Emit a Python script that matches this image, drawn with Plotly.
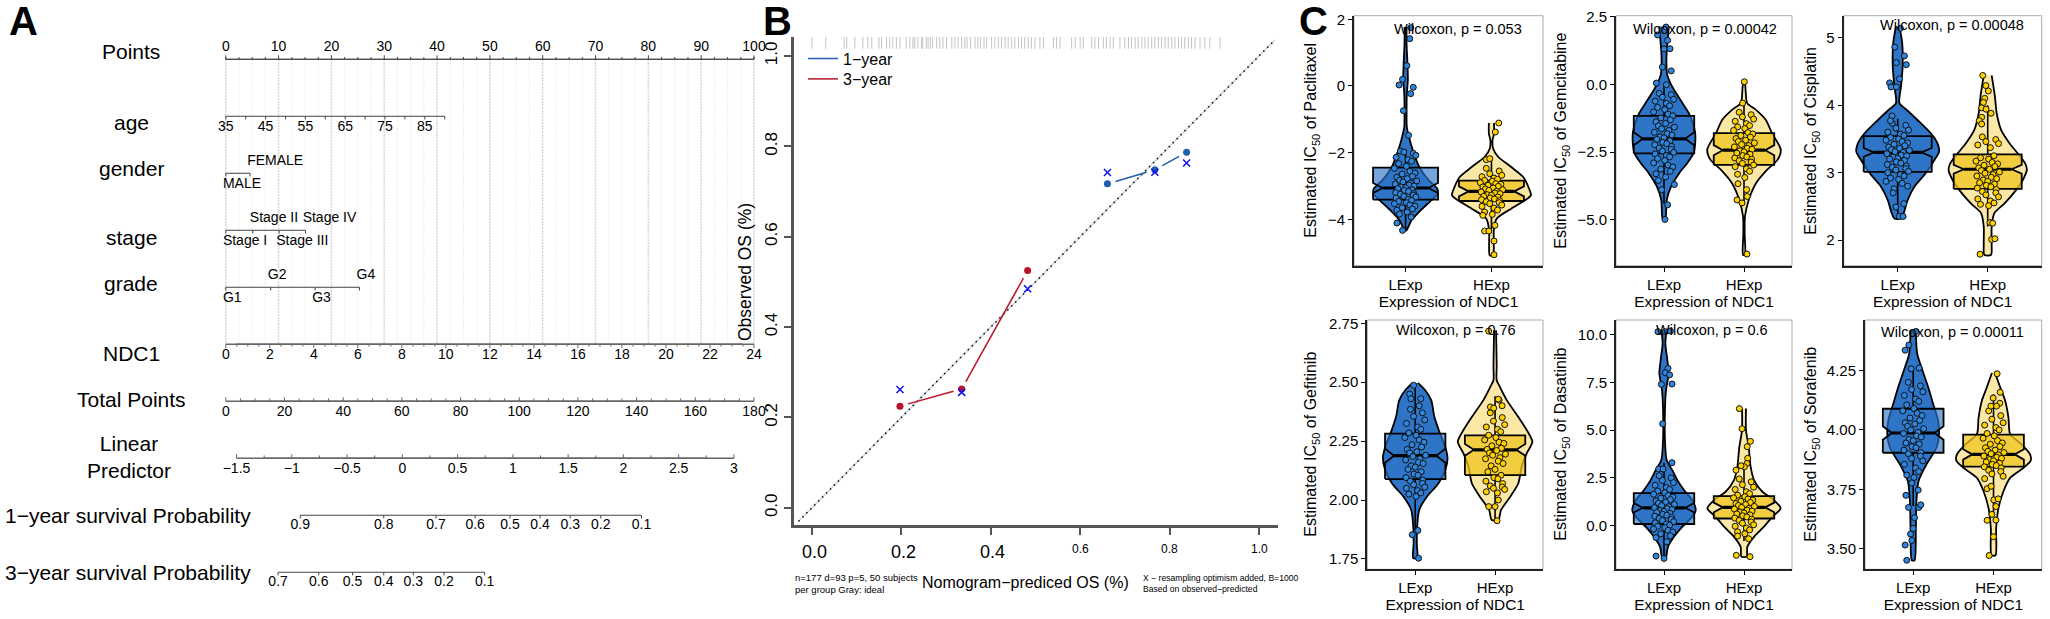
import plotly.graph_objects as go

W, H = 2050, 619
FONT = "Liberation Sans"

# ---- panel A, nomogram rows. positions are on the Points scale (0-100)
points_major = [0, 10, 20, 30, 40, 50, 60, 70, 80, 90, 100]
points_minor = [2.5, 5, 7.5, 12.5, 15, 17.5, 22.5, 25, 27.5, 32.5, 35, 37.5, 42.5, 45, 47.5, 52.5, 55, 57.5,
                62.5, 65, 67.5, 72.5, 75, 77.5, 82.5, 85, 87.5, 92.5, 95, 97.5]
age_ticks = [35, 40, 45, 50, 55, 60, 65, 70, 75, 80, 85, 90]
age_labels = [35, 45, 55, 65, 75, 85]
age_end_pts = 41.44
gender_labels = ["MALE", "FEMALE"]
gender_pts = [0, 4.6]
stage_labels = ["Stage I", "Stage II", "Stage III", "Stage IV"]
stage_pts = [0, 5.1, 10.1, 15.1]
grade_labels = ["G1", "G2", "G3", "G4"]
grade_pts = [0, 8.5, 16.9, 25.3]
ndc1_major = [0, 2, 4, 6, 8, 10, 12, 14, 16, 18, 20, 22, 24]
ndc1_minor = [0.5, 1, 1.5, 2.5, 3, 3.5, 4.5, 5, 5.5, 6.5, 7, 7.5, 8.5, 9, 9.5, 10.5, 11, 11.5, 12.5, 13, 13.5,
              14.5, 15, 15.5, 16.5, 17, 17.5, 18.5, 19, 19.5, 20.5, 21, 21.5, 22.5, 23, 23.5]
total_major = [0, 20, 40, 60, 80, 100, 120, 140, 160, 180]
total_minor = [5, 10, 15, 25, 30, 35, 45, 50, 55, 65, 70, 75, 85, 90, 95, 105, 110, 115, 125, 130, 135, 145, 150,
               155, 165, 170, 175]
lp_major = [-1.5, -1, -0.5, 0, 0.5, 1, 1.5, 2, 2.5, 3]
lp_labels = ["−1.5", "−1", "−0.5", "0", "0.5", "1", "1.5", "2", "2.5", "3"]
lp_minor = [-1.25, -0.75, -0.25, 0.25, 0.75, 1.25, 1.75, 2.25, 2.75]
lp_start_pts = 2.03
lp_end_pts = 96.2
surv1_labels = ["0.9", "0.8", "0.7", "0.6", "0.5", "0.4", "0.3", "0.2", "0.1"]
surv1_pts = [14.1, 29.9, 39.8, 47.2, 53.8, 59.5, 65.2, 71, 78.7]
surv3_labels = ["0.7", "0.6", "0.5", "0.4", "0.3", "0.2", "0.1"]
surv3_pts = [9.9, 17.6, 24, 29.9, 35.5, 41.3, 49]
row_names = ["Points", "age", "gender", "stage", "grade", "NDC1", "Total Points", "Linear<br>Predictor",
             "1−year survival Probability", "3−year survival Probability"]

# ---- panel B, calibration
pred_1y = [0.661, 0.767, 0.838]
obs_1y = [0.717, 0.748, 0.787]
corr_1y = [0.742, 0.7425, 0.763]
pred_3y = [0.197, 0.335, 0.4825]
obs_3y = [0.225, 0.263, 0.525]
corr_3y = [0.262, 0.2555, 0.485]
ideal = [-0.03, 1.035]
rug = [0.0, .031, .072, .078, .096, .114, .125, .134, .15, .156, .167, .174, .181, .189, .197, .211, .219, .226,
       .23, .237, .245, .248, .256, .26, .265, .27, .279, .286, .293, .301, .313, .32, .327, .335, .342, .347, .355,
       .365, .371, .377, .385, .391, .402, .409, .417, .424, .432, .439, .447, .454, .462, .469, .476, .484, .491,
       .499, .51, .518, .54, .547, .555, .581, .589, .6, .607, .626, .633, .641, .652, .659, .667, .674, .689, .7,
       .708, .715, .723, .73, .738, .745, .752, .76, .767, .775, .782, .79, .797, .805, .812, .82, .827, .834, .842,
       .849, .857, .868, .879, .89, .913]
calib_ticks = [0.0, 0.2, 0.4, 0.6, 0.8, 1.0]
calib_labels = ["0.0", "0.2", "0.4", "0.6", "0.8", "1.0"]

# ---- panel C, violin outline (level, half width), box stats, points
# box = q1, median, q3, notch half height, lower whisker, upper whisker
pac_l_lev = [1.77, 1.27, .62, .17, -.23, -.73, -1.23, -1.53, -1.93, -2.43, -2.83, -3.08, -3.23, -3.43, -3.73, -4.03, -4.33]
pac_l_wid = [.012, .012, .023, .027, .015, .012, .015, .04, .085, .16, .27, .37, .375, .30, .175, .07, .01]
pac_l_box = [-3.41, -3.06, -2.45, .15, -4.3, -1.9]
pac_l_core = [-1.95, -2.02, -1.98, -2.08, -2.14, -2.21, -2.26, -2.33, -2.41, -2.47, -2.56, -2.61, -2.64, -2.71, -2.74,
              -2.78, -2.83, -2.85, -2.88, -2.92, -2.94, -2.97, -3.0, -3.03, -3.05, -3.08, -3.11, -3.13, -3.16, -3.2,
              -3.22, -3.25, -3.27, -3.31, -3.33, -3.36, -3.4, -3.43, -3.46, -3.5, -3.53, -3.57, -3.6, -3.65, -3.69,
              -3.73, -3.78, -3.84]
pac_l_ty = [1.75, 1.42, .61, .2, .03, -.04, -.23, -.74, -1.48, -4.11, -4.33, -3.93]
pac_l_dx = [.06, .05, .015, -.035, -.075, .09, .06, -.025, .035, -.1, -.035, .065]
pac_h_lev = [-1.11, -1.43, -1.63, -1.88, -2.13, -2.43, -2.73, -3.03, -3.28, -3.43, -3.68, -3.98, -4.33, -4.68, -5.08]
pac_h_wid = [.03, .03, .012, .02, .08, .23, .37, .43, .46, .39, .23, .06, .027, .027, .02]
pac_h_box = [-3.45, -3.16, -2.84, .15, -4.3, -2.1]
pac_h_core = [-2.47, -2.55, -2.63, -2.68, -2.72, -2.76, -2.8, -2.83, -2.86, -2.9, -2.93, -2.95, -2.98, -3.01, -3.03,
              -3.06, -3.09, -3.11, -3.13, -3.16, -3.18, -3.21, -3.23, -3.26, -3.28, -3.31, -3.33, -3.36, -3.39, -3.41,
              -3.44, -3.47, -3.5, -3.53, -3.57, -3.61, -3.66, -3.72, -3.78, -3.85]
pac_h_ty = [-1.11, -1.38, -2.21, -2.18, -4.35, -4.35, -4.18, -4.65, -5.06, -3.88]
pac_h_dx = [.085, .045, -.06, -.02, -.08, -.03, .04, .03, .03, -.1]

gem_l_lev = [2.14, 1.77, 1.28, .79, .36, .05, -.32, -.69, -1.06, -1.43, -1.80, -2.17, -2.54, -2.91, -3.28, -3.77, -4.26, -5.0]
gem_l_wid = [.06, .05, .035, .03, .04, .08, .15, .23, .31, .36, .39, .39, .37, .29, .19, .09, .035, .015]
gem_l_box = [-2.55, -2.01, -1.16, .24, -4.4, 0]
gem_l_core = [-.33, -.38, -.47, -.55, -.62, -.7, -.79, -.85, -.93, -1.02, -1.1, -1.16, -1.24, -1.31, -1.38, -1.44, -1.53,
              -1.58, -1.64, -1.7, -1.77, -1.82, -1.87, -1.93, -1.97, -2.03, -2.08, -2.14, -2.19, -2.23, -2.29, -2.35,
              -2.4, -2.46, -2.51, -2.57, -2.63, -2.68, -2.74, -2.81, -2.9, -2.98, -3.05, -3.13, -3.21, -3.3, -3.42,
              -3.55, -3.7, -3.89]
gem_l_ty = [1.83, 2.12, 1.63, 1.31, 1.32, .64, .5, .05, -.01, -4.45, -4.99]
gem_l_dx = [-.08, .025, .045, 0, .075, -.02, .09, -.095, .03, .045, .012]
gem_h_lev = [.15, -.2, -.69, -.94, -1.3, -1.8, -2.41, -2.78, -3.15, -3.65, -4.26, -4.88, -5.5, -6.3]
gem_h_wid = [.012, .02, .04, .15, .27, .35, .46, .42, .29, .15, .06, .012, .008, .012]
gem_h_box = [-2.97, -2.43, -1.8, .185, -4.4, -.7]
gem_h_core = [-1.03, -1.12, -1.2, -1.28, -1.36, -1.45, -1.52, -1.57, -1.63, -1.7, -1.78, -1.83, -1.89, -1.95, -2.0,
              -2.06, -2.11, -2.16, -2.22, -2.26, -2.31, -2.36, -2.4, -2.45, -2.49, -2.54, -2.58, -2.63, -2.68, -2.72,
              -2.77, -2.82, -2.87, -2.92, -2.98, -3.04, -3.12, -3.21, -3.32, -3.44]
gem_h_ty = [.1, -.69, -4.27, -4.38, -4.14, -3.89, -3.67, -6.27]
gem_h_dx = [.004, -.017, -.087, -.025, .04, .033, -.075, .037]

cis_l_lev = [5.17, 4.92, 4.57, 4.28, 4.03, 3.93, 3.78, 3.58, 3.44, 3.31, 3.19, 2.99, 2.79, 2.59, 2.40, 2.32]
cis_l_wid = [.019, .05, .055, .037, .019, .10, .22, .37, .44, .46, .41, .31, .185, .11, .067, .037]
cis_l_box = [3.01, 3.30, 3.54, .065, 2.33, 3.8]
cis_l_core = [3.73, 3.7, 3.66, 3.63, 3.6, 3.57, 3.55, 3.52, 3.5, 3.48, 3.46, 3.44, 3.42, 3.4, 3.38, 3.36, 3.34, 3.33,
              3.31, 3.3, 3.28, 3.26, 3.25, 3.23, 3.21, 3.2, 3.18, 3.16, 3.14, 3.12, 3.1, 3.08, 3.06, 3.04, 3.02, 3.0,
              2.97, 2.95, 2.92, 2.9, 2.87, 2.84, 2.8, 2.76]
cis_l_ty = [5.14, 4.86, 4.73, 4.63, 4.6, 4.39, 4.33, 4.27, 4.27, 3.84, 3.77, 2.35, 2.35, 2.49, 2.54, 2.7]
cis_l_dx = [.03, -.033, .074, -.015, .096, .02, -.09, -.074, -.015, -.063, -.08, .02, .06, -.02, .067, -.05]
cis_h_lev = [4.44, 4.13, 3.88, 3.63, 3.44, 3.29, 3.14, 3.04, 2.89, 2.74, 2.54, 2.40, 2.2, 1.95, 1.78]
cis_h_wid = [.044, .08, .1, .15, .24, .33, .415, .435, .39, .315, .185, .074, .044, .044, .037]
cis_h_box = [2.76, 3.05, 3.27, .065, 2.2, 4.0]
cis_h_core = [3.53, 3.49, 3.46, 3.43, 3.41, 3.37, 3.25, 3.22, 3.2, 3.17, 3.15, 3.13, 3.11, 3.09, 3.07, 3.05, 3.03, 3.01,
              2.99, 2.97, 2.95, 2.93, 2.91, 2.89, 2.87, 2.85, 2.83, 2.81, 2.79, 2.77, 2.75, 2.72, 2.7, 2.67, 2.64, 2.61,
              2.58, 2.55, 2.53, 2.51]
cis_h_ty = [4.44, 4.29, 4.21, 4.1, 4.04, 3.96, 3.94, 3.88, 3.82, 3.77, 3.72, 1.79, 2.01, 2.02, 2.26, 2.25]
cis_h_dx = [-.055, -.02, .007, -.033, -.048, -.067, -.018, .037, -.067, -.093, -.067, -.085, .044, .08, .026, .055]

gef_l_lev = [2.497, 2.466, 2.424, 2.353, 2.282, 2.226, 2.177, 2.127, 2.07, 2.014, 1.958, 1.887, 1.816, 1.753]
gef_l_wid = [.033, .125, .2, .24, .31, .375, .405, .375, .29, .146, .05, .025, .02, .025]
gef_l_box = [2.089, 2.188, 2.282, .03, 1.87, 2.49]
gef_l_core = [2.385, 2.37, 2.355, 2.34, 2.325, 2.31, 2.3, 2.285, 2.275, 2.265, 2.255, 2.245, 2.235, 2.225, 2.215, 2.205,
              2.2, 2.19, 2.185, 2.175, 2.17, 2.16, 2.155, 2.145, 2.14, 2.13, 2.12, 2.11, 2.105, 2.095, 2.085, 2.08, 2.07,
              2.065, 2.055, 2.05, 2.04, 2.03, 2.025, 2.015]
gef_l_ty = [2.487, 2.45, 2.43, 2.43, 2.40, 1.853, 1.871, 1.753]
gef_l_dx = [-.02, -.07, -.054, .07, .05, -.037, .033, .042]
gef_h_lev = [2.72, 2.636, 2.565, 2.508, 2.48, 2.424, 2.353, 2.297, 2.247, 2.198, 2.141, 2.07, 2.014, 1.958, 1.915]
gef_h_wid = [.012, .017, .02, .02, .06, .146, .29, .396, .467, .396, .333, .29, .19, .075, .042]
gef_h_box = [2.106, 2.213, 2.274, .025, 1.91, 2.44]
gef_h_core = [2.37, 2.35, 2.335, 2.32, 2.31, 2.3, 2.29, 2.275, 2.265, 2.255, 2.245, 2.24, 2.23, 2.22, 2.215, 2.21, 2.2,
              2.195, 2.19, 2.18, 2.175, 2.165, 2.155, 2.145, 2.13, 2.12, 2.105, 2.095, 2.09, 2.08, 2.07, 2.06, 2.055,
              2.05, 2.045, 2.035, 2.03]
gef_h_ty = [2.717, 2.424, 2.40, 2.395, 2.39, 2.428, 1.972, 1.972, 2.0, 1.912]
gef_h_dx = [-.08, .05, .088, -.058, -.017, .04, -.08, 0, .04, .025]

das_l_lev = [10.24, 9.55, 8.67, 7.98, 7.1, 6.06, 4.49, 3.44, 2.91, 2.39, 1.87, 1.34, .82, .47, -.05, -.58, -1.1, -1.71]
das_l_wid = [.033, .017, .042, .058, .025, .012, .012, .033, .104, .167, .25, .354, .396, .354, .23, .125, .05, .02]
das_l_box = [.09, .94, 1.71, .25, -1.7, 3.3]
das_l_core = [2.62, 2.5, 2.37, 2.26, 2.12, 2.0, 1.9, 1.82, 1.73, 1.65, 1.58, 1.5, 1.44, 1.37, 1.3, 1.24, 1.18, 1.12, 1.06,
              1.0, .95, .9, .85, .8, .75, .7, .65, .6, .55, .5, .44, .38, .33, .27, .21, .15, .09, .03, -.03, -.1, -.17,
              -.24, -.33, -.42, -.52, -.62]
das_l_ty = [10.16, 10.16, 10.19, 8.24, 8.01, 7.9, 7.4, 7.42, 5.34, 3.3, 2.97, 2.97, -1.59, -1.71, -.84]
das_l_dx = [-.075, .017, .08, .05, .017, .07, -.033, .1, -.017, .1, -.067, -.012, -.1, 0, .037]
das_h_lev = [6.14, 5.0, 4.14, 3.09, 2.39, 1.78, 1.34, .91, .47, -.05, -.58, -1.1, -1.62]
das_h_wid = [.025, .025, .058, .083, .125, .23, .375, .458, .354, .25, .125, .042, .033]
das_h_box = [.38, .96, 1.55, .25, -.8, 3.2]
das_h_core = [2.45, 2.3, 2.15, 2.02, 1.9, 1.78, 1.68, 1.6, 1.52, 1.46, 1.4, 1.34, 1.28, 1.22, 1.16, 1.11, 1.06, 1.01, .96,
              .91, .87, .82, .77, .72, .67, .62, .57, .52, .46, .4, .34, .28, .2, .13, .05, -.03, -.12, -.22, -.32, -.42]
das_h_ty = [6.13, 5.08, 4.42, 4.14, 3.53, 3.26, 2.91, 3.09, 3.14, -1.55, -1.62, -.68, -.54]
das_h_dx = [-.058, -.025, .08, .04, .046, .037, -.1, .004, -.037, -.096, .075, .058, -.08]

sor_l_lev = [4.42, 4.32, 4.25, 4.18, 4.11, 4.04, 3.98, 3.925, 3.855, 3.784, 3.70, 3.586, 3.452]
sor_l_wid = [.033, .05, .116, .186, .248, .31, .322, .29, .165, .066, .041, .033, .017]
sor_l_box = [3.904, 3.987, 4.089, .028, 3.68, 4.26]
sor_l_core = [4.2, 4.185, 4.17, 4.16, 4.145, 4.13, 4.12, 4.105, 4.09, 4.08, 4.07, 4.06, 4.05, 4.04, 4.03, 4.025, 4.015, 4.005,
              4.0, 3.99, 3.985, 3.975, 3.97, 3.96, 3.955, 3.945, 3.94, 3.93, 3.925, 3.915, 3.905, 3.9, 3.89, 3.88, 3.87,
              3.855, 3.84, 3.825, 3.81, 3.8]
sor_l_ty = [4.414, 4.357, 4.335, 4.26, 4.257, 3.452, 3.516, 3.535, 3.562, 3.586, 3.631, 3.674, 3.674, 3.685, 3.747, 3.725, 3.777]
sor_l_dx = [.033, -.054, -.1, .074, -.025, -.08, -.1, -.017, -.033, 0, .017, -.058, .07, .095, .062, -.09, -.017]
sor_h_lev = [4.239, 4.179, 4.123, 4.052, 3.982, 3.939, 3.897, 3.871, 3.84, 3.798, 3.742, 3.671, 3.586, 3.473]
sor_h_wid = [.02, .083, .145, .186, .207, .35, .455, .463, .372, .207, .124, .062, .033, .025]
sor_h_box = [3.846, 3.897, 3.98, .022, 3.65, 4.15]
sor_h_core = [4.08, 4.06, 4.045, 4.03, 4.02, 4.01, 4.0, 3.985, 3.975, 3.965, 3.955, 3.945, 3.94, 3.93, 3.925, 3.915, 3.91, 3.905,
              3.9, 3.895, 3.89, 3.885, 3.88, 3.875, 3.87, 3.865, 3.86, 3.855, 3.85, 3.845, 3.84, 3.83, 3.825, 3.815, 3.805, 3.795]
sor_h_ty = [4.236, 4.158, 4.134, 4.112, 4.1, 4.1, 3.472, 3.551, 3.62, 3.645, 3.621, 3.678, 3.706, 3.71, 3.753, 3.763]
sor_h_dx = [.045, .083, -.004, .078, .037, -.033, -.054, 0, -.08, -.02, .03, .03, .004, .058, -.08, -.03]

jitter = [-.06, .09, -.02, .12, -.11, .03, .07, -.08, .01, -.13, .05, .11, -.04, .08, -.1, .02, -.07, .13, -.03, .06,
          -.12, .04, .1, -.05, 0, -.09, .075, -.015, .035, -.115, .095]

pac_ticks, pac_text = [2, 0, -2, -4], ["2", "0", "−2", "−4"]
gem_ticks, gem_text = [2.5, 0, -2.5, -5], ["2.5", "0.0", "−2.5", "−5.0"]
cis_ticks, cis_text = [5, 4, 3, 2], ["5", "4", "3", "2"]
gef_ticks, gef_text = [2.75, 2.5, 2.25, 2, 1.75], ["2.75", "2.50", "2.25", "2.00", "1.75"]
das_ticks, das_text = [10, 7.5, 5, 2.5, 0], ["10.0", "7.5", "5.0", "2.5", "0.0"]
sor_ticks, sor_text = [4.25, 4, 3.75, 3.5], ["4.25", "4.00", "3.75", "3.50"]
groups = ["LExp", "HExp"]

BLUE, BLUE_BOX, BLUE_PT = "#2E75C8", "rgba(46,117,200,0.65)", "#2E86DE"
YEL, YEL_BOX, YEL_PT = "#FBE8A6", "rgba(240,196,30,0.75)", "#FFD000"
BOX_HALF = 0.378


def xdom(a, b):
    return [a / W, b / W]


def ydom(top, bottom):
    return [1 - bottom / H, 1 - top / H]


fig = go.Figure()
notes = []


def note(text, x, y, size, anchor="center", angle=0, **kw):
    notes.append(dict(text=text, x=x / W, y=1 - y / H, xref="paper", yref="paper", showarrow=False,
                      font=dict(size=size, color="black"), xanchor=anchor, yanchor="middle", textangle=angle, **kw))


# ------------------ A
def seg(pts, row, length):
    xs, ys = [], []
    for p in pts:
        xs += [p, p, None]
        ys += [row, row + length, None]
    return xs, ys


def rule(pts, row, length=0.055, color="#444444", width=1):
    fig.add_trace(go.Scatter(x=[min(pts), max(pts)], y=[row, row], mode="lines", line=dict(color=color, width=width),
                             xaxis="x", yaxis="y", showlegend=False, hoverinfo="skip"))
    xs, ys = seg(pts, row, length)
    fig.add_trace(go.Scatter(x=xs, y=ys, mode="lines", line=dict(color=color, width=1),
                             xaxis="x", yaxis="y", showlegend=False, hoverinfo="skip"))


def row_text(pts, labels, row, off=0.19, pos="middle center"):
    fig.add_trace(go.Scatter(x=pts, y=[row + off] * len(pts), mode="text", text=labels, textposition=pos,
                             textfont=dict(size=14, color="black"), cliponaxis=False,
                             xaxis="x", yaxis="y", showlegend=False, hoverinfo="skip"))


# grid first so the rows sit on top
xs, ys = seg(points_minor, 0, 5)
fig.add_trace(go.Scatter(x=xs, y=ys, mode="lines", line=dict(color="#eeeeee", width=1, dash="2px,1px"),
                         xaxis="x", yaxis="y", showlegend=False, hoverinfo="skip"))
xs, ys = seg(points_major, 0, 5)
fig.add_trace(go.Scatter(x=xs, y=ys, mode="lines", line=dict(color="#d8d8d8", width=1.6, dash="2px,1px"),
                         xaxis="x", yaxis="y", showlegend=False, hoverinfo="skip"))

rule(points_major, 0, -0.07)
rule(points_minor + [0, 100], 0, -0.04)
row_text(points_major, [str(v) for v in points_major], 0, -0.2)

age_pts = [(v - 35) / 55 * age_end_pts for v in age_ticks]
rule(age_pts, 1)
row_text([(v - 35) / 55 * age_end_pts for v in age_labels], [str(v) for v in age_labels], 1)


def cat_row(pts, labels, row):
    rule(pts, row)
    lower = list(range(0, len(pts), 2))
    upper = list(range(1, len(pts), 2))
    row_text([pts[i] - 0.55 for i in lower], [labels[i] for i in lower], row, 0.19, "middle right")
    row_text([pts[i] - 0.55 for i in upper], [labels[i] for i in upper], row, -0.21, "middle right")


cat_row(gender_pts, gender_labels, 2)
cat_row(stage_pts, stage_labels, 3)
cat_row(grade_pts, grade_labels, 4)

ndc1_pts = [v / 24 * 100 for v in ndc1_major]
rule(ndc1_pts, 5, 0.07, "#666666", 1.6)
rule([v / 24 * 100 for v in ndc1_minor], 5, 0.04, "#666666", 1.6)
row_text(ndc1_pts, [str(v) for v in ndc1_major], 5)

total_pts = [v / 180 * 100 for v in total_major]
rule(total_pts, 6, -0.07, "#666666", 1.6)
rule([v / 180 * 100 for v in total_minor], 6, -0.05, "#666666", 1.6)
row_text(total_pts, [str(v) for v in total_major], 6)


def lp_to_pts(v):
    return lp_start_pts + (v + 1.5) / 4.5 * (lp_end_pts - lp_start_pts)


lp_pts = [lp_to_pts(v) for v in lp_major]
rule(lp_pts, 7, -0.07, "#666666", 1.6)
rule([lp_to_pts(v) for v in lp_minor], 7, -0.05, "#666666", 1.6)
row_text(lp_pts, lp_labels, 7)

rule(surv1_pts, 8)
row_text(surv1_pts, surv1_labels, 8, 0.18)
rule(surv3_pts, 9)
row_text(surv3_pts, surv3_labels, 9, 0.18)

for name, y, cx in zip(row_names, [52, 122, 168, 237, 283, 353, 399, 457, 515, 572],
                       [131, 131, 131, 131, 131, 131, 131, 129, 128, 128]):
    note(name, cx, y, 21)
note("<b>A</b>", 7, 21, 40, "left")

# ------------------ B
fig.add_trace(go.Scatter(x=ideal, y=ideal, mode="lines", line=dict(color="#cccccc", width=1.2),
                         xaxis="x2", yaxis="y2", showlegend=False, hoverinfo="skip"))
fig.add_trace(go.Scatter(x=ideal, y=ideal, mode="lines", line=dict(color="#11222c", width=1.6, dash="1.6px,4px"),
                         xaxis="x2", yaxis="y2", showlegend=False, hoverinfo="skip"))
fig.add_trace(go.Scatter(x=rug, y=[1.03] * len(rug), mode="markers",
                         marker=dict(symbol="line-ns", size=9, line=dict(width=1, color="#c4c4c4")),
                         xaxis="x2", yaxis="y2", showlegend=False, hoverinfo="skip"))


def gapped(xs, ys, gap=0.019):
    gx, gy = [], []
    for i in range(len(xs) - 1):
        dx, dy = xs[i + 1] - xs[i], ys[i + 1] - ys[i]
        d = (dx ** 2 + dy ** 2) ** 0.5
        gx += [xs[i] + dx / d * gap, xs[i + 1] - dx / d * gap, None]
        gy += [ys[i] + dy / d * gap, ys[i + 1] - dy / d * gap, None]
    return gx, gy


# one legend per year so the two entries can sit closer than a single legend allows
for label, px_, ob, co, col, leg in [("1−year", pred_1y, obs_1y, corr_1y, "#1F5FB0", "legend"),
                                     ("3−year", pred_3y, obs_3y, corr_3y, "#B8142A", "legend2")]:
    gx, gy = gapped(px_, ob)
    fig.add_trace(go.Scatter(x=gx, y=gy, mode="lines", line=dict(color=col, width=1.5), name=label, legend=leg,
                             showlegend=True, xaxis="x2", yaxis="y2", hoverinfo="skip"))
    fig.add_trace(go.Scatter(x=px_, y=ob, mode="markers", marker=dict(color=col, size=7),
                             xaxis="x2", yaxis="y2", showlegend=False, hoverinfo="skip"))
    fig.add_trace(go.Scatter(x=px_, y=co, mode="markers",
                             marker=dict(symbol="x-thin", size=7, line=dict(width=1.5, color="#1010EE")),
                             xaxis="x2", yaxis="y2", showlegend=False, hoverinfo="skip"))

note("<b>B</b>", 761, 21, 40, "left")
note("Observed OS (%)", 745, 272, 17.5, angle=-90)
note("Nomogram−prediced OS (%)", 1025, 582, 16)
note("n=177 d=93 p=5, 50 subjects<br>per group Gray: ideal", 793, 583, 9.5, "left", align="left")
note("X − resampling optimism added, B=1000<br>Based on observed−predicted", 1141, 583, 8.6, "left", align="left", width=159)
for tick, lab, px_off, size, yy in zip(calib_ticks, calib_labels, [2, 2, 2, 0, 0, 0], [18, 18, 18, 12, 12, 12],
                                        [552, 552, 552, 549, 549, 549]):
    note(lab, 812 + tick * 447 + px_off, yy, size)

# ------------------ C
panels = [
    ("Paclitaxel", (1354, 1543, 15.7, 265.7), (-5.39, 2.108), pac_ticks, pac_text, "Wilcoxon, p = 0.053", (1458, 29), 1312,
     [(pac_l_lev, pac_l_wid, pac_l_box, pac_l_core, pac_l_ty, pac_l_dx), (pac_h_lev, pac_h_wid, pac_h_box, pac_h_core, pac_h_ty, pac_h_dx)]),
    ("Gemcitabine", (1616, 1792, 15.7, 265.7), (-6.7, 2.54), gem_ticks, gem_text, "Wilcoxon, p = 0.00042", (1705, 29), 1562,
     [(gem_l_lev, gem_l_wid, gem_l_box, gem_l_core, gem_l_ty, gem_l_dx), (gem_h_lev, gem_h_wid, gem_h_box, gem_h_core, gem_h_ty, gem_h_dx)]),
    ("Cisplatin", (1843.7, 2041.7, 15.7, 265.7), (1.62, 5.326), cis_ticks, cis_text, "Wilcoxon, p = 0.00048", (1952, 25), 1812,
     [(cis_l_lev, cis_l_wid, cis_l_box, cis_l_core, cis_l_ty, cis_l_dx), (cis_h_lev, cis_h_wid, cis_h_box, cis_h_core, cis_h_ty, cis_h_dx)]),
    ("Gefitinib", (1367.3, 1543, 320, 569.3), (1.706, 2.764), gef_ticks, gef_text, "Wilcoxon, p = 0.76", (1456, 330), 1312,
     [(gef_l_lev, gef_l_wid, gef_l_box, gef_l_core, gef_l_ty, gef_l_dx), (gef_h_lev, gef_h_wid, gef_h_box, gef_h_core, gef_h_ty, gef_h_dx)]),
    ("Dasatinib", (1616, 1792, 320, 569.3), (-2.28, 10.77), das_ticks, das_text, "Wilcoxon, p = 0.6", (1712, 330), 1562,
     [(das_l_lev, das_l_wid, das_l_box, das_l_core, das_l_ty, das_l_dx), (das_h_lev, das_h_wid, das_h_box, das_h_core, das_h_ty, das_h_dx)]),
    ("Sorafenib", (1865, 2041.7, 320, 569.3), (3.414, 4.462), sor_ticks, sor_text, "Wilcoxon, p = 0.00011", (1952, 332), 1812,
     [(sor_l_lev, sor_l_wid, sor_l_box, sor_l_core, sor_l_ty, sor_l_dx), (sor_h_lev, sor_h_wid, sor_h_box, sor_h_core, sor_h_ty, sor_h_dx)]),
]

axes = {}
shapes = []
for n, (drug, (x0, x1, y0, y1), yrange, ticks, text, wilc, (wx, wy), title_x, grp) in enumerate(panels, start=3):
    xa, ya = f"x{n}", f"y{n}"
    axes[f"xaxis{n}"] = dict(domain=xdom(x0, x1), range=[0.4, 2.6], anchor=ya, tickvals=[1, 2], ticktext=groups,
                             tickfont=dict(size=15), ticks="outside", ticklen=4, tickcolor="black", showgrid=False,
                             zeroline=False, showline=True, linecolor="#222222", linewidth=2, automargin=False,
                             title=dict(text="Expression of NDC1", font=dict(size=15.4), standoff=0))
    axes[f"yaxis{n}"] = dict(domain=ydom(y0, y1), range=list(yrange), anchor=xa, tickvals=ticks, ticktext=text,
                             tickfont=dict(size=15), ticks="outside", ticklen=4, tickcolor="black", showgrid=False,
                             zeroline=False, showline=True, linecolor="#222222", linewidth=2, automargin=False)
    shapes.append(dict(type="rect", xref=f"{xa} domain", yref=f"{ya} domain", x0=0, x1=1, y0=0, y1=1,
                       line=dict(color="#aaaaaa", width=1), layer="below"))
    note(f"Estimated IC<sub>50</sub> of {drug}", title_x, (y0 + y1) / 2, 16, angle=-90)
    note(wilc, wx, wy, 14.5)

    for pos, (lev, wid, box, core, ty, tdx), fill, bfill, pt in zip([1, 2], grp, [BLUE, YEL], [BLUE_BOX, YEL_BOX], [BLUE_PT, YEL_PT]):
        vx = [pos - w for w in wid] + [pos + w for w in reversed(wid)]
        vy = lev + lev[::-1]
        fig.add_trace(go.Scatter(x=vx, y=vy, mode="lines", fill="toself", fillcolor=fill,
                                 line=dict(color="black", width=1.8, shape="spline", smoothing=0.7),
                                 xaxis=xa, yaxis=ya, showlegend=False, hoverinfo="skip"))
        q1, med, q3, nh, lo, up = box
        # whiskers, notched box and median go in as scatter traces so they stack above the violin
        fig.add_trace(go.Scatter(x=[pos, pos, None, pos, pos], y=[q3, up, None, q1, lo], mode="lines",
                                 line=dict(color="black", width=1.6),
                                 xaxis=xa, yaxis=ya, showlegend=False, hoverinfo="skip"))
        h = BOX_HALF
        bx = [pos - h, pos + h, pos + h, pos + h * 0.7, pos + h, pos + h, pos - h, pos - h, pos - h * 0.7, pos - h, pos - h]
        by = [q1, q1, med - nh, med, med + nh, q3, q3, med + nh, med, med - nh, q1]
        fig.add_trace(go.Scatter(x=bx, y=by, mode="lines", fill="toself", fillcolor=bfill,
                                 line=dict(color="black", width=1.8),
                                 xaxis=xa, yaxis=ya, showlegend=False, hoverinfo="skip"))
        fig.add_trace(go.Scatter(x=[pos - h * 0.7, pos + h * 0.7], y=[med, med], mode="lines",
                                 line=dict(color="black", width=3.2), xaxis=xa, yaxis=ya, showlegend=False, hoverinfo="skip"))
        px_pts = [pos + jitter[i % len(jitter)] for i in range(len(core))] + [pos + d for d in tdx]
        fig.add_trace(go.Scatter(x=px_pts, y=core + ty, mode="markers", cliponaxis=False,
                                 marker=dict(color=pt, size=6, line=dict(color="#111111", width=1)),
                                 xaxis=xa, yaxis=ya, showlegend=False, hoverinfo="skip"))

note("<b>C</b>", 1297, 21, 40, "left")

fig.update_layout(
    width=W, height=H, margin=dict(l=0, r=0, t=0, b=0), paper_bgcolor="white", plot_bgcolor="rgba(0,0,0,0)",
    font=dict(family=FONT, color="black"),
    xaxis=dict(domain=xdom(0, 800), range=[-225.8 / 5.282, (800 - 225.8) / 5.282], visible=False, automargin=False),
    yaxis=dict(domain=[0, 1], range=[9.82, -1.04], visible=False, automargin=False),
    xaxis2=dict(domain=xdom(794, 1278), range=[-0.04, 1.0425], anchor="y2", tickvals=calib_ticks, showticklabels=False,
                ticks="outside", ticklen=7, tickwidth=2, tickcolor="#555555", showgrid=False, zeroline=False,
                showline=True, linecolor="#555555", linewidth=2.5, automargin=False),
    yaxis2=dict(domain=ydom(37, 525), range=[-0.038, 1.042], anchor="x2", tickvals=calib_ticks, ticktext=calib_labels,
                tickangle=-90, tickfont=dict(size=17), ticks="outside", ticklen=7, tickwidth=2, tickcolor="#555555",
                showgrid=False, zeroline=False, showline=True, linecolor="#555555", linewidth=2.5, automargin=False),
    legend=dict(x=803 / W, y=1 - 41.5 / H, xanchor="left", yanchor="top", bgcolor="rgba(0,0,0,0)", font=dict(size=16),
                itemwidth=30, tracegroupgap=0),
    legend2=dict(x=803 / W, y=1 - 62 / H, xanchor="left", yanchor="top", bgcolor="rgba(0,0,0,0)", font=dict(size=16),
                 itemwidth=30, tracegroupgap=0),
    annotations=notes, shapes=shapes, **axes,
)

fig.write_html("out.html", config={"displayModeBar": False},
               post_script="document.body.style.margin='0';document.body.style.overflow='hidden';")
